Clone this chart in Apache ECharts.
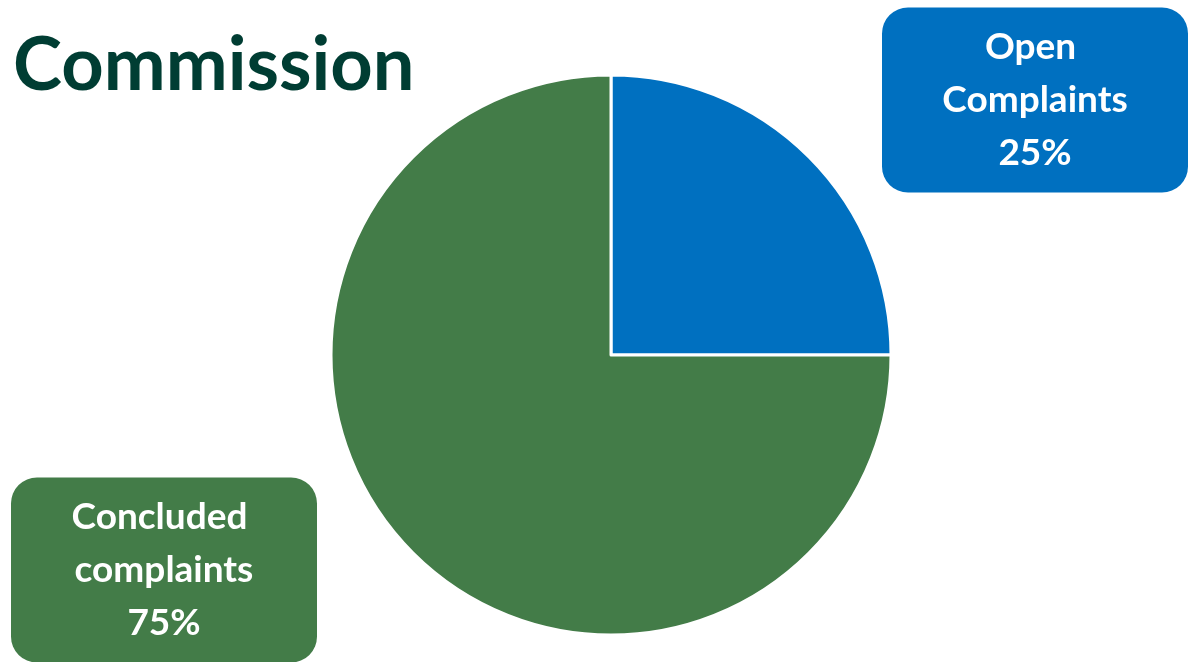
<!DOCTYPE html>
<html>
<head>
<meta charset="utf-8">
<script src="https://cdn.jsdelivr.net/npm/echarts@6/dist/echarts.min.js"></script>
<style>
  html, body { margin: 0; padding: 0; background: #fff; }
  #chart { width: 1190px; height: 662px; }
</style>
</head>
<body>
<div id="chart"></div>
<script>
var titleText = "Commission";
var sliceNames = ["Open Complaints", "Concluded complaints"];
var sliceValues = [25, 75];
var sliceColors = ["#0070C0", "#437C48"];

var chart = echarts.init(document.getElementById("chart"));

// label boxes sit in the corners, not next to the slices
var boxCentres = [
  [1035, 100],
  [164, 570]
];

var option = {
  animation: false,
  title: {
    text: titleText,
    left: 8,
    top: 24,
    textStyle: {
      fontFamily: "Lato",
      fontWeight: "bold",
      fontSize: 74,
      color: "#003D33"
    }
  },
  series: [
    {
      type: "pie",
      center: [611, 355],
      radius: 280,
      startAngle: 90,
      clockwise: true,
      itemStyle: {
        borderColor: "#fff",
        borderWidth: 3
      },
      labelLine: { show: false },
      label: {
        show: true,
        position: "outside",
        formatter: "{b}\n{d}%",
        color: "#fff",
        fontFamily: "Lato",
        fontWeight: "bold",
        fontSize: 37,
        lineHeight: 53,
        width: 230,
        height: 159,
        overflow: "break",
        align: "center",
        verticalAlign: "middle",
        padding: [13, 38],
        borderRadius: 26
      },
      labelLayout: function (params) {
        var c = boxCentres[params.dataIndex];
        return { x: c[0], y: c[1], align: "center", verticalAlign: "middle" };
      },
      data: sliceNames.map(function (name, i) {
        return {
          name: name,
          value: sliceValues[i],
          itemStyle: { color: sliceColors[i] },
          label: { backgroundColor: sliceColors[i] }
        };
      })
    }
  ]
};

chart.setOption(option);
</script>
</body>
</html>
